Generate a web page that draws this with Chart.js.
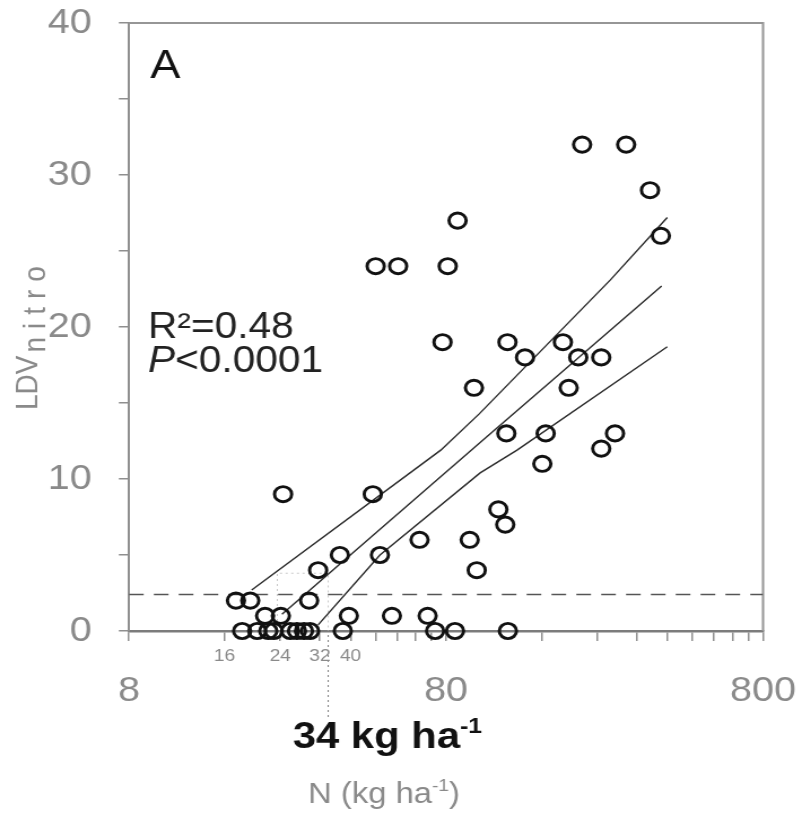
<!DOCTYPE html>
<html>
<head>
<meta charset="utf-8">
<script src="https://cdn.jsdelivr.net/npm/chart.js@4.4.0/dist/chart.umd.min.js"></script>
<style>
  html, body { margin: 0; padding: 0; background: #fff; }
</style>
</head>
<body>
<!-- drawn narrow and shown a little wider, like the printed figure -->
<canvas id="ldvChart" width="710" height="815" style="display:block;width:802px;height:815px"></canvas>
<script>
// N rate (kg ha-1) and LDVnitro for each plot
const nRate = [215, 296, 352, 381, 87, 48, 56.5, 81, 78, 125, 187, 142, 209, 247,
  98, 195, 124, 165, 273, 247, 161, 24.5, 47, 117, 123, 66, 95, 37, 49.5, 31.6, 100,
  17.4, 19.3, 29.6, 21.5, 24.1, 39.5, 54, 70,
  18.2, 20.3, 22, 22.9, 25.8, 27.1, 28.5, 29.8, 37.8, 73.9, 85.4, 125.4];
const ldv = [32, 32, 29, 26, 27, 24, 24, 24, 19, 19, 19, 18, 18, 18,
  16, 16, 13, 13, 13, 12, 11, 9, 9, 8, 7, 6, 6, 5, 5, 4, 4,
  2, 2, 2, 1, 1, 1, 1, 1,
  0, 0, 0, 0, 0, 0, 0, 0, 0, 0, 0, 0];

// log fit and its 95% band
const fitN = [24.3, 102.5, 383];
const fitLdv = [1.1, 12.4, 22.7];
const upperN = [19.5, 77, 102, 264, 399];
const upperLdv = [2.7, 11.9, 14.3, 23.1, 27.2];
const lowerN = [31.6, 49.5, 102.5, 134, 399];
const lowerLdv = [0.4, 5.0, 10.4, 11.9, 18.7];

// detection threshold and the N rate where it is crossed
const thresholdLdv = 2.4;
const cutoffN = 34;
const guideLowN = 23.5;
const guideTopLdv = 3.8;

const xTickLabels = [8, 80, 800];
const smallTickLabels = [16, 24, 32, 40];
const yMax = 40;

const FONT = '"Liberation Sans", Arial, sans-serif';
const GREY = '#8a8a8a';

const pairs = (xs, ys) => xs.map((x, i) => ({ x: x, y: ys[i] }));

// minor tick marks every 8 / 80 kg
const xTickMarks = [];
for (let d = 8; d < 800; d *= 10) {
  for (let k = 1; k < 10; k++) xTickMarks.push(d * k);
}
xTickMarks.push(800);

function supText(ctx, base, sup, cx, y, baseFont, supFont, rise) {
  ctx.font = baseFont;
  const wb = ctx.measureText(base).width;
  ctx.font = supFont;
  const ws = ctx.measureText(sup).width;
  const x0 = cx - (wb + ws) / 2;
  ctx.textAlign = 'left';
  ctx.font = baseFont;
  ctx.fillText(base, x0, y);
  ctx.font = supFont;
  ctx.fillText(sup, x0 + wb, y - rise);
}

const frameAndNotes = {
  id: 'frameAndNotes',
  beforeDatasetsDraw(chart) {
    const { ctx, chartArea: a, scales: { x, y } } = chart;
    ctx.save();
    ctx.strokeStyle = '#969696';
    ctx.lineWidth = 2;
    ctx.beginPath();
    ctx.moveTo(a.left, a.top);
    ctx.lineTo(a.right, a.top);
    ctx.lineTo(a.right, a.bottom);
    ctx.stroke();

    const gx0 = x.getPixelForValue(guideLowN);
    const gx1 = x.getPixelForValue(cutoffN);
    const gy = y.getPixelForValue(guideTopLdv);
    ctx.setLineDash([2, 3]);
    ctx.strokeStyle = '#c8c8c8';
    ctx.lineWidth = 1;
    ctx.beginPath();
    ctx.moveTo(gx0, a.bottom);
    ctx.lineTo(gx0, gy);
    ctx.lineTo(gx1, gy);
    ctx.lineTo(gx1, a.bottom);
    ctx.stroke();

    ctx.strokeStyle = '#7a7a7a';
    ctx.beginPath();
    ctx.moveTo(gx1, a.bottom + 4);
    ctx.lineTo(gx1, 718);
    ctx.stroke();
    ctx.restore();
  },
  afterDraw(chart) {
    const { ctx, scales: { x } } = chart;
    ctx.save();
    ctx.textBaseline = 'alphabetic';

    // small labels under the threshold region
    ctx.fillStyle = GREY;
    ctx.font = '17px ' + FONT;
    ctx.textAlign = 'center';
    smallTickLabels.forEach(v => ctx.fillText(String(v), x.getPixelForValue(v), 661));

    // panel letter and statistics
    ctx.fillStyle = '#111';
    ctx.textAlign = 'left';
    ctx.font = '40px ' + FONT;
    ctx.fillText('A', 133, 78);
    ctx.fillStyle = '#222';
    ctx.font = '36px ' + FONT;
    ctx.fillText('R\u00b2=0.48', 131, 338);
    ctx.font = 'italic 36px ' + FONT;
    ctx.fillText('P', 131, 372);
    const wp = ctx.measureText('P').width;
    ctx.font = '36px ' + FONT;
    ctx.fillText('<0.0001', 131 + wp, 372);

    // cutoff value
    ctx.fillStyle = '#111';
    supText(ctx, '34 kg ha', '-1', 343, 748, 'bold 37px ' + FONT, 'bold 22px ' + FONT, 15);

    // x axis title
    ctx.fillStyle = GREY;
    ctx.font = '29px ' + FONT;
    const t1 = 'N (kg ha', t2 = '-1', t3 = ')';
    const w1 = ctx.measureText(t1).width;
    const w3 = ctx.measureText(t3).width;
    ctx.font = '17px ' + FONT;
    const w2 = ctx.measureText(t2).width;
    const tx = 340 - (w1 + w2 + w3) / 2;
    ctx.font = '29px ' + FONT;
    ctx.fillText(t1, tx, 803);
    ctx.font = '17px ' + FONT;
    ctx.fillText(t2, tx + w1, 791);
    ctx.font = '29px ' + FONT;
    ctx.fillText(t3, tx + w1 + w2, 803);

    // y axis title with subscript
    ctx.translate(33, 410);
    ctx.rotate(-Math.PI / 2);
    ctx.font = '28px ' + FONT;
    ctx.fillText('LDV', 0, 0);
    const wl = ctx.measureText('LDV').width;
    ctx.letterSpacing = '8px';
    ctx.fillText('nitro', wl + 3, 7);
    ctx.restore();
  }
};

const lineStyle = {
  showLine: true,
  pointRadius: 0,
  borderColor: '#2b2b2b',
  borderWidth: 1.4,
  fill: false,
  order: 2
};

new Chart(document.getElementById('ldvChart').getContext('2d'), {
  type: 'scatter',
  data: {
    datasets: [
      {
        label: 'Plots',
        data: pairs(nRate, ldv),
        pointStyle: 'circle',
        pointRadius: 7.6,
        borderWidth: 2.9,
        borderColor: '#111',
        backgroundColor: 'rgba(0,0,0,0)',
        clip: false,
        order: 1
      },
      Object.assign({ label: 'Fit', data: pairs(fitN, fitLdv) }, lineStyle),
      Object.assign({ label: 'Upper 95%', data: pairs(upperN, upperLdv) }, lineStyle),
      Object.assign({ label: 'Lower 95%', data: pairs(lowerN, lowerLdv) }, lineStyle),
      {
        label: 'Threshold',
        data: [{ x: 8, y: thresholdLdv }, { x: 800, y: thresholdLdv }],
        showLine: true,
        pointRadius: 0,
        borderColor: '#555',
        borderWidth: 1.6,
        borderDash: [13, 9],
        order: 3
      }
    ]
  },
  options: {
    responsive: false,
    animation: false,
    layout: { padding: { top: 23, right: 34.5, bottom: 0, left: 0 } },
    plugins: {
      legend: { display: false },
      tooltip: { enabled: false }
    },
    scales: {
      x: {
        type: 'logarithmic',
        min: 8,
        max: 800,
        afterBuildTicks: axis => { axis.ticks = xTickMarks.map(v => ({ value: v })); },
        afterFit: axis => {
          axis.height = 184;
          axis.paddingLeft = 0;
          axis.paddingRight = 0;
        },
        border: { display: true, color: '#7c7c7c', width: 2.5 },
        grid: { drawOnChartArea: false, drawTicks: true, tickLength: 10, color: '#8f8f8f', lineWidth: 1.5 },
        ticks: {
          autoSkip: false,
          maxRotation: 0,
          padding: 29,
          color: GREY,
          font: { family: FONT, size: 35 },
          callback: v => xTickLabels.includes(v) ? String(v) : ''
        }
      },
      y: {
        min: 0,
        max: yMax,
        afterFit: axis => {
          axis.width = 114.2;
          axis.paddingTop = 0;
          axis.paddingBottom = 0;
        },
        border: { display: true, color: '#8f8f8f', width: 2 },
        grid: { drawOnChartArea: false, drawTicks: true, tickLength: 9, color: '#8f8f8f', lineWidth: 1.5 },
        ticks: {
          stepSize: 5,
          padding: 24,
          color: GREY,
          font: { family: FONT, size: 35 },
          callback: v => v % 10 === 0 ? String(v) : ''
        }
      }
    }
  },
  plugins: [frameAndNotes]
});
</script>
</body>
</html>
